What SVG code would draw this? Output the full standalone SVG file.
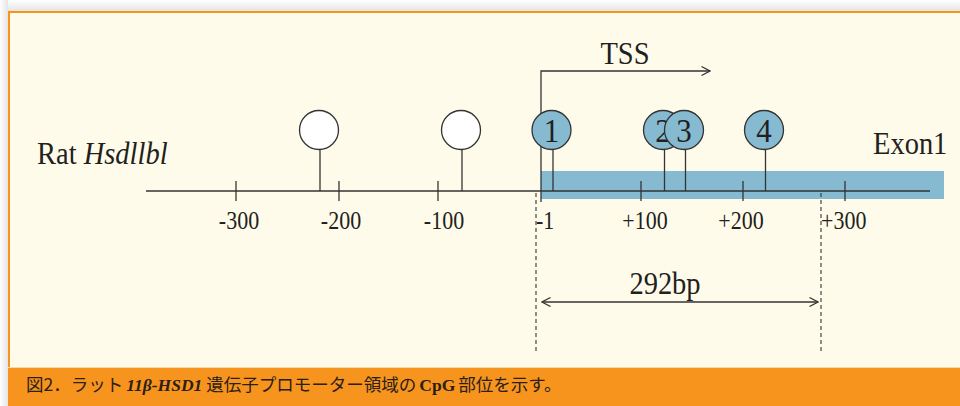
<svg xmlns="http://www.w3.org/2000/svg" width="960" height="406" viewBox="0 0 960 406">
  <defs>
    <style>
      .ser { font-family: "Liberation Serif", "Times New Roman", serif; fill: #231f20; }
      .big { font-size: 28.5px; }
      .cn { font-size: 31px; }
      .num { font-size: 22px; }
      .ln { stroke: #333; stroke-width: 1.3; fill: none; }
      .dash { stroke: #333; stroke-width: 1.1; stroke-dasharray: 4 3; fill: none; }
      .cw { fill: #ffffff; stroke: #333; stroke-width: 1.3; }
      .cb { fill: #85bad0; stroke: #333; stroke-width: 1.3; }
      .cap { font-family: "Noto Sans CJK JP", "Noto Sans", sans-serif; font-size: 17.5px; fill: #2a2018; }
      .capser { font-family: "Liberation Serif", "Noto Sans CJK JP", serif; font-weight: bold; }
    </style>
    <marker id="chev" viewBox="0 0 10 10" refX="9" refY="5" markerWidth="10" markerHeight="10" markerUnits="userSpaceOnUse" orient="auto-start-reverse">
      <path d="M0.5,0.5 L9,5 L0.5,9.5" fill="none" stroke="#333" stroke-width="1.2"/>
    </marker>
    <linearGradient id="shL" x1="0" y1="0" x2="1" y2="0">
      <stop offset="0" stop-color="#ffffff"/>
      <stop offset="1" stop-color="#e4e4e4"/>
    </linearGradient>
    <linearGradient id="shT" x1="0" y1="0" x2="0" y2="1">
      <stop offset="0" stop-color="#ffffff"/>
      <stop offset="1" stop-color="#e4e4e4"/>
    </linearGradient>
  </defs>

  <!-- page background and shadow -->
  <rect x="0" y="0" width="960" height="406" fill="#ffffff"/>
  <rect x="0" y="0" width="960" height="11" fill="url(#shT)"/>
  <rect x="0" y="0" width="8" height="406" fill="url(#shL)"/>

  <!-- panel -->
  <g id="panel">
    <rect x="9" y="12" width="960" height="356" fill="#fffbea"/>
    <line x1="8" y1="12" x2="960" y2="12" stroke="#f7941d" stroke-width="2"/>
    <line x1="9" y1="11" x2="9" y2="368" stroke="#f7941d" stroke-width="2"/>
    <rect x="8" y="367" width="952" height="39" fill="#f7941d"/>
    <line x1="8" y1="367.5" x2="960" y2="367.5" stroke="#f9d9a8" stroke-width="1"/>
  </g>

  <!-- exon box -->
  <g id="exon1">
    <rect x="541" y="171" width="403" height="28" fill="#85bad0"/>
    <text class="ser big" transform="translate(873,154) scale(1,1.1)">Exon1</text>
  </g>

  <g id="label-rat">
    <text class="ser big" transform="translate(37,164) scale(1,1.08)">Rat <tspan font-style="italic">Hsdllbl</tspan></text>
  </g>

  <!-- axis -->
  <g id="axis">
    <line class="ln" x1="146" y1="191" x2="930" y2="191"/>
    <line class="ln" x1="236" y1="181" x2="236" y2="201"/>
    <line class="ln" x1="339" y1="181" x2="339" y2="201"/>
    <line class="ln" x1="438" y1="181" x2="438" y2="201"/>
    <line class="ln" x1="641" y1="181" x2="641" y2="201"/>
    <line class="ln" x1="743" y1="181" x2="743" y2="201"/>
    <line class="ln" x1="845" y1="181" x2="845" y2="201"/>
    <text class="ser num" transform="translate(239,229) scale(1,1.12)" text-anchor="middle">-300</text>
    <text class="ser num" transform="translate(341,229) scale(1,1.12)" text-anchor="middle">-200</text>
    <text class="ser num" transform="translate(444,229) scale(1,1.12)" text-anchor="middle">-100</text>
    <text class="ser num" transform="translate(536,229) scale(1,1.12)">-1</text>
    <text class="ser num" transform="translate(645,229) scale(1,1.12)" text-anchor="middle">+100</text>
    <text class="ser num" transform="translate(741,229) scale(1,1.12)" text-anchor="middle">+200</text>
    <text class="ser num" transform="translate(821,229) scale(1,1.12)">+300</text>
  </g>

  <!-- connectors -->
  <g id="connectors">
    <path class="ln" d="M541,202 L541,71 L710,71" marker-end="url(#chev)"/>
    <line class="dash" x1="536" y1="193" x2="536" y2="354"/>
    <line class="dash" x1="821" y1="193" x2="821" y2="354"/>
    <line class="ln" x1="542" y1="302" x2="818" y2="302" marker-start="url(#chev)" marker-end="url(#chev)"/>
  </g>

  <g id="tss">
    <text class="ser big" transform="translate(625,63.5) scale(1,1.1)" text-anchor="middle">TSS</text>
  </g>
  <g id="len">
    <text class="ser big" transform="translate(665,294) scale(1,1.1)" text-anchor="middle">292bp</text>
  </g>

  <!-- CpG sites -->
  <g id="cpg-u1">
    <line class="ln" x1="320" y1="150" x2="320" y2="191"/>
    <circle class="cw" cx="319" cy="130" r="19.5"/>
  </g>
  <g id="cpg-u2">
    <line class="ln" x1="462" y1="150" x2="462" y2="191"/>
    <circle class="cw" cx="461" cy="130" r="19.5"/>
  </g>
  <g id="cpg-1">
    <line class="ln" x1="553" y1="150" x2="553" y2="191"/>
    <circle class="cb" cx="551.5" cy="130" r="19.5"/>
    <text class="ser cn" transform="translate(551.5,142) scale(1,1.08)" text-anchor="middle">1</text>
  </g>
  <g id="cpg-2">
    <line class="ln" x1="664.5" y1="150" x2="664.5" y2="191"/>
    <circle class="cb" cx="663" cy="130" r="19.5"/>
    <text class="ser cn" transform="translate(663,142) scale(1,1.08)" text-anchor="middle">2</text>
  </g>
  <g id="cpg-3">
    <line class="ln" x1="685.5" y1="150" x2="685.5" y2="191"/>
    <circle class="cb" cx="684" cy="130" r="19.5"/>
    <text class="ser cn" transform="translate(684,142) scale(1,1.08)" text-anchor="middle">3</text>
  </g>
  <g id="cpg-4">
    <line class="ln" x1="765.5" y1="150" x2="765.5" y2="191"/>
    <circle class="cb" cx="764" cy="130" r="19.5"/>
    <text class="ser cn" transform="translate(764,142) scale(1,1.08)" text-anchor="middle">4</text>
  </g>

  <!-- caption -->
  <g id="caption">
    <text class="cap" x="26" y="391">図2．ラット<tspan class="capser" font-style="italic" dx="3">11β-HSD1</tspan><tspan dx="4">遺伝子プロモーター領域の</tspan><tspan class="capser" dx="3">CpG</tspan><tspan dx="3">部位を示す。</tspan></text>
  </g>
</svg>
